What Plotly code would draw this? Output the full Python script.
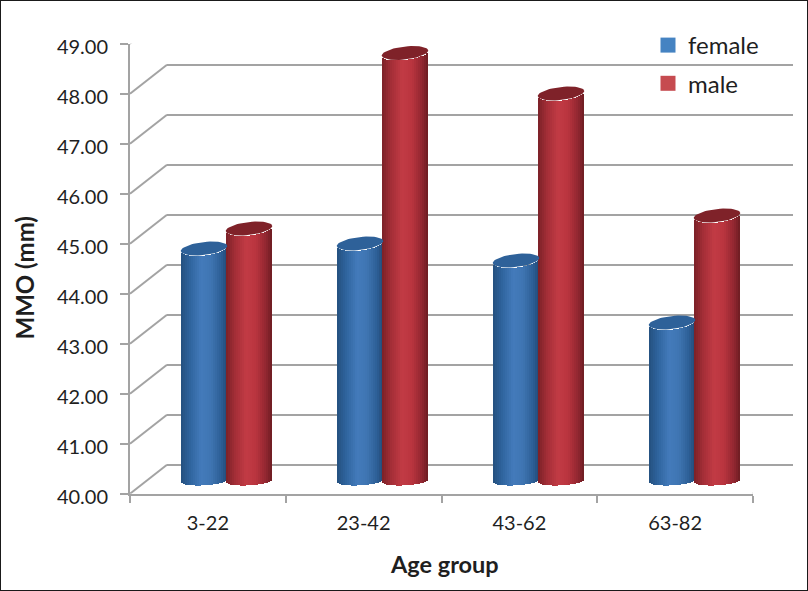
import math
import plotly.graph_objects as go

categories = ["3-22", "23-42", "43-62", "63-82"]
female = [44.62, 44.72, 44.38, 43.14]
male = [45.02, 48.53, 47.72, 45.28]
y_ticks = [40, 41, 42, 43, 44, 45, 46, 47, 48, 49]
y_labels = ["40.00", "41.00", "42.00", "43.00", "44.00", "45.00", "46.00", "47.00", "48.00", "49.00"]

W, H = 808, 591
FONT = "Lato"
TEXT = "#1F1F1F"
GRID = "#A3A3A3"
BLUE_STOPS = ["#24507F", "#2F649E", "#437ABB", "#3F75B2", "#2C5E95", "#234A75"]
RED_STOPS = ["#7A2027", "#A42E37", "#C23B45", "#B9343E", "#902630", "#6C1C22"]
CAP_BLUE, CAP_RED = "#2E6199", "#7F2229"
LEG_BLUE, LEG_RED = "#4583C2", "#C64B50"
STOP_POS = [-1, -0.6, -0.12, 0.3, 0.75, 1]

# geometry of the pseudo-3D box, pixels
FRONT_L, FRONT_R, FRONT_B, FRONT_T = 130, 753, 493.7, 43.7
MID_L, MID_R, MID_B = 149, 773, 479.5
BACK_L, BACK_R, BACK_B, BACK_T = 167, 793, 464.7, 15
UNIT = (FRONT_B - FRONT_T) / 9
XUNIT = (FRONT_R - FRONT_L) / 4
STRIPS = 23
BAR_PX = 46.5
RY, TILT = 6.5, 2.5
RY_BASE, TILT_BASE, BASE_SINK = 4.5, 1.2, 0.9
MID_LOW = 39.8
BACK_LOW = 39.9


def dx(a, b):
    return [a / W, b / W]


def dy(bottom, top):
    return [1 - bottom / H, 1 - top / H]


def hex_rgb(c):
    return [int(c[i:i + 2], 16) for i in (1, 3, 5)]


def shade(stops, u):
    for i in range(len(STOP_POS) - 1):
        if u <= STOP_POS[i + 1]:
            t = (u - STOP_POS[i]) / (STOP_POS[i + 1] - STOP_POS[i])
            a, b = hex_rgb(stops[i]), hex_rgb(stops[i + 1])
            return "rgb(%d,%d,%d)" % tuple(round(p + (q - p) * t) for p, q in zip(a, b))
    return stops[-1]


fig = go.Figure()
mid_xunit = (MID_R - MID_L) / 4


def add_cylinders(values, centre_shift_px, stops, cap):
    strip_w = BAR_PX / STRIPS / mid_xunit
    for j in range(STRIPS):
        u = -1 + (2 * j + 1) / STRIPS
        arc = (1 - u * u) ** 0.5
        top_drop = (-RY * arc + TILT * u) / UNIT
        base_drop = (-RY_BASE * arc + TILT_BASE * u - BASE_SINK) / UNIT
        fig.add_trace(go.Bar(
            x=[i + 0.5 + (centre_shift_px + u * BAR_PX / 2) / mid_xunit for i in range(len(values))],
            y=[v - 40 + top_drop - base_drop for v in values],
            base=40 + base_drop,
            width=strip_w * 1.12,
            marker=dict(color=shade(stops, u), line=dict(width=0)),
            xaxis="x2", yaxis="y2", showlegend=False, hoverinfo="skip",
        ))
    for i, v in enumerate(values):
        xs, ys = [], []
        for k in range(49):
            t = k / 48 * 2 * math.pi
            cu, su = math.cos(t), math.sin(t)
            xs.append(i + 0.5 + (centre_shift_px + cu * BAR_PX / 2) / mid_xunit)
            ys.append(v + (RY * su + TILT * cu) / UNIT)
        fig.add_trace(go.Scatter(
            x=xs, y=ys, mode="lines", fill="toself", fillcolor=cap,
            line=dict(width=0, color=cap), xaxis="x2", yaxis="y2",
            showlegend=False, hoverinfo="skip",
        ))


add_cylinders(female, -23, BLUE_STOPS, CAP_BLUE)
add_cylinders(male, 22, RED_STOPS, CAP_RED)

# legend entries
for name, colour in (("female", LEG_BLUE), ("male", LEG_RED)):
    fig.add_trace(go.Scatter(
        x=[None], y=[None], mode="markers", name=name, legendgroup=name,
        marker=dict(symbol="square", size=15, color=colour), xaxis="x", yaxis="y",
    ))

# front axes need one trace to exist
fig.add_trace(go.Scatter(x=[None], y=[None], xaxis="x3", yaxis="y3", showlegend=False, hoverinfo="skip"))

# side wall and floor connectors
shapes = []
run_x, run_y = (BACK_L - FRONT_L) / XUNIT, (FRONT_B - BACK_B) / UNIT
line = dict(color=GRID, width=2)
for t in y_ticks:
    shapes.append(dict(type="line", xref="x3", yref="y3", x0=0, y0=t, x1=run_x, y1=t + run_y, line=line, layer="below"))
shapes.append(dict(type="line", xref="x3", yref="y3", x0=4, y0=40, x1=4 + run_x, y1=40 + run_y, line=line, layer="below"))
# picture frame
shapes.append(dict(type="rect", xref="paper", yref="paper", x0=0, y0=0, x1=1, y1=1,
                   line=dict(color="#1A1A1A", width=2), layer="above"))

fig.update_layout(
    width=W, height=H, margin=dict(l=0, r=0, t=0, b=0, autoexpand=False),
    paper_bgcolor="white", plot_bgcolor="rgba(0,0,0,0)",
    barmode="overlay", bargap=0, shapes=shapes,
    font=dict(family=FONT, color=TEXT),
    legend=dict(x=648 / W, y=1 - 23 / H, xanchor="left", yanchor="top", tracegroupgap=4,
                font=dict(size=24, family=FONT, color=TEXT), bgcolor="rgba(0,0,0,0)", itemwidth=30),
    # back wall
    xaxis=dict(domain=dx(BACK_L, BACK_R), range=[0, 4], visible=False, anchor="y", automargin=False),
    yaxis=dict(domain=dy(BACK_B + (40 - BACK_LOW) * UNIT, BACK_T), range=[BACK_LOW, 49], anchor="x",
               showgrid=True, gridcolor=GRID,
               gridwidth=2.4, tickvals=y_ticks, showticklabels=False, ticks="", zeroline=False, showline=False,
               automargin=False),
    # cylinders at mid depth
    xaxis2=dict(domain=dx(MID_L, MID_R), range=[0, 4], visible=False, anchor="y2", automargin=False),
    yaxis2=dict(domain=dy(MID_B + (40 - MID_LOW) * UNIT, MID_B - 9 * UNIT), range=[MID_LOW, 49],
                visible=False, anchor="x2", automargin=False),
    # front axes
    xaxis3=dict(domain=dx(FRONT_L, FRONT_R), range=[0, 4], anchor="y3", showgrid=False, zeroline=False,
                showline=True, linecolor=GRID, linewidth=2, automargin=False,
                tickmode="array", tickvals=[0.5, 1.5, 2.5, 3.5], ticktext=categories, ticks="",
                ticklabelstandoff=10, tickfont=dict(size=20, family=FONT, color=TEXT),
                minor=dict(tickmode="array", tickvals=[0, 1, 2, 3, 4], ticks="outside", ticklen=7,
                           tickwidth=2, tickcolor=GRID, showgrid=False)),
    yaxis3=dict(domain=dy(FRONT_B, FRONT_T), range=[40, 49], anchor="x3", showgrid=False, zeroline=False,
                showline=True, linecolor=GRID, linewidth=2, automargin=False,
                tickmode="array", tickvals=y_ticks, ticktext=y_labels, ticks="outside", ticklen=8,
                tickwidth=2, tickcolor=GRID, tickfont=dict(size=20, family=FONT, color=TEXT),
                ticklabelstandoff=8, ticklabelshift=3),
    annotations=[
        dict(text="<b>Age group</b>", xref="paper", yref="paper", x=444.5 / W, y=1 - 564 / H, showarrow=False,
             xanchor="center", yanchor="middle", font=dict(size=23.5, family=FONT, color=TEXT)),
        dict(text="<b>MMO (mm)</b>", xref="paper", yref="paper", x=24 / W, y=1 - 278.5 / H, showarrow=False,
             textangle=-90, xanchor="center", yanchor="middle", font=dict(size=24, family=FONT, color=TEXT)),
    ],
)

fig.write_html("out.html", config=dict(displayModeBar=False),
               post_script="document.body.style.margin='0';document.body.style.overflow='hidden';")
